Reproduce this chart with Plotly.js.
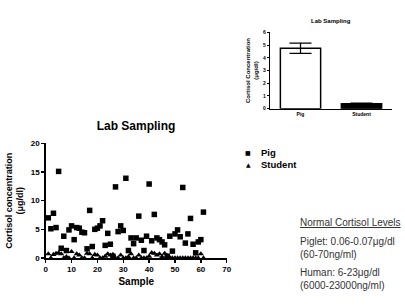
<!DOCTYPE html>
<html><head><meta charset="utf-8">
<script src="https://cdn.plot.ly/plotly-3.0.1.min.js"></script>
<style>html,body{margin:0;padding:0;background:#fff}#chart{width:405px;height:305px}</style>
</head><body><div id="chart"></div>
<script>
const samples = Array.from({length: 61}, (_, i) => i + 1);
const pigValues = [7.0,5.1,7.8,5.3,15.1,1.7,3.8,1.3,4.9,5.6,
  3.2,5.3,5.2,4.5,4.4,1.6,8.3,2.0,5.0,5.2,
  5.6,6.5,2.2,4.3,2.4,0.3,12.4,4.6,5.6,4.8,
  13.9,1.3,3.5,2.5,3.5,7.3,3.1,1.3,3.8,12.9,
  3.0,7.6,3.5,3.2,2.8,2.3,0.3,3.8,1.2,4.2,
  4.9,3.7,12.3,2.6,4.2,6.9,2.4,0.9,2.8,3.2,8.0];
const studentValues = [0.7,0,0.6,0.8,0.9,0.7,0,0.2,0,1.1,
  0,0.7,0.5,0,0,0.8,0.7,0,0.6,0.5,
  0,0,0.3,0.7,0.5,0.6,0,0,0.5,0,
  0,0.2,0.7,0,0,0.5,0,0,0,0.3,
  0.9,0.8,0.5,0.7,0.2,0.8,0.4,0.1,0,0,
  0,0,0,0,0,0,0,0,0,0.7,0];
const groups = ['Pig', 'Student'];
const groupMeans = [4.75, 0.38];
const groupErrors = [0.4, 0.05];
const xTicks = [0,10,20,30,40,50,60,70];
const yTicks = [0,5,10,15,20];
const insetTicks = [0,1,2,3,4,5,6];

const W = 405, H = 305;
const px = x => x / W;
const py = y => 1 - y / H;
const bold = 'Liberation Sans, Arial, sans-serif';

const traces = [
  {x: samples, y: pigValues, type: 'scatter', mode: 'markers', name: 'Pig',
   marker: {symbol: 'square', size: 5.5, color: '#000'}, cliponaxis: false, xaxis: 'x', yaxis: 'y'},
  {x: samples, y: studentValues, type: 'scatter', mode: 'markers', name: 'Student',
   marker: {symbol: 'triangle-up', size: 5.5, color: '#000'}, cliponaxis: false, xaxis: 'x', yaxis: 'y'},
  {x: groups, y: groupMeans, type: 'bar', xaxis: 'x2', yaxis: 'y2', width: 0.66,
   marker: {color: ['#fff', '#000'], line: {color: '#000', width: 1.5}},
   error_y: {type: 'data', array: groupErrors, visible: true, color: '#000', thickness: 1.3, width: 11}}
];

const axisFont = {family: bold, size: 8, color: '#000', weight: 'bold'};
const layout = {
  width: W, height: H,
  margin: {l: 0, r: 0, t: 0, b: 0},
  paper_bgcolor: '#fff', plot_bgcolor: 'rgba(0,0,0,0)',
  showlegend: false,
  font: {family: bold, color: '#000'},
  title: {text: '<b>Lab Sampling</b>', x: px(136), xanchor: 'center', y: py(126), yanchor: 'middle',
          xref: 'paper', yref: 'paper', font: {family: bold, size: 12, color: '#000'}},
  xaxis: {domain: [px(45.7), px(226.7)], range: [0, 70], tickvals: xTicks, anchor: 'y',
          showgrid: false, zeroline: false, showline: true, linecolor: '#000', linewidth: 1.5,
          ticks: 'outside', ticklen: 3, tickwidth: 1.5, tickcolor: '#000',
          tickfont: axisFont,
          title: {text: '<b>Sample</b>', font: {family: bold, size: 10, color: '#000'}, standoff: 5}},
  yaxis: {domain: [py(258), py(143.3)], range: [0, 20], tickvals: yTicks, anchor: 'x',
          showgrid: false, zeroline: false, showline: true, linecolor: '#000', linewidth: 1.5,
          ticks: 'outside', ticklen: 3, tickwidth: 1.5, tickcolor: '#000',
          tickfont: axisFont,
          title: {text: '<b>Cortisol concentration<br>(μg/dl)</b>', font: {family: bold, size: 9, color: '#000'}, standoff: 5}},
  xaxis2: {domain: [px(270), px(392)], range: [-0.5, 1.5], anchor: 'y2', type: 'category',
           showgrid: false, zeroline: false, showline: true, linecolor: '#000', linewidth: 1.2,
           ticks: '', tickfont: {family: bold, size: 5, color: '#000', weight: 'bold'}},
  yaxis2: {domain: [py(108.7), py(32.3)], range: [0, 6], tickvals: insetTicks, anchor: 'x2',
           showgrid: false, zeroline: false, showline: true, linecolor: '#000', linewidth: 1.2,
           ticks: 'outside', ticklen: 2, tickwidth: 1, tickcolor: '#000',
           tickfont: {family: bold, size: 5, color: '#000', weight: 'bold'},
           title: {text: '<b>Cortisol Concentration<br>(μg/dl)</b>', font: {family: bold, size: 6, color: '#000'}, standoff: 4}},
  annotations: [
    {text: '<b>Lab Sampling</b>', x: px(331), y: py(20.5), xref: 'paper', yref: 'paper', showarrow: false,
     xanchor: 'center', yanchor: 'middle', font: {family: bold, size: 6, color: '#000'}},
    {text: '■', x: px(248), y: py(152), xref: 'paper', yref: 'paper', showarrow: false,
     xanchor: 'center', yanchor: 'middle', font: {family: 'DejaVu Sans', size: 6, color: '#000'}},
    {text: '▲', x: px(248), y: py(164.5), xref: 'paper', yref: 'paper', showarrow: false,
     xanchor: 'center', yanchor: 'middle', font: {family: 'DejaVu Sans', size: 6, color: '#000'}},
    {text: '<b>Pig</b>', x: px(259), y: py(152), xref: 'paper', yref: 'paper', showarrow: false,
     xanchor: 'left', yanchor: 'middle', font: {family: bold, size: 9.5, color: '#000'}},
    {text: '<b>Student</b>', x: px(259), y: py(164.5), xref: 'paper', yref: 'paper', showarrow: false,
     xanchor: 'left', yanchor: 'middle', font: {family: bold, size: 9.5, color: '#000'}},
    {text: '<u>Normal Cortisol Levels</u>', x: px(298), y: py(222), xref: 'paper', yref: 'paper', showarrow: false,
     xanchor: 'left', yanchor: 'middle', font: {family: bold, size: 10, color: '#333'}},
    {text: 'Piglet: 0.06-0.07μg/dl<br>(60-70ng/ml)', x: px(298), y: py(247.5), xref: 'paper', yref: 'paper', showarrow: false,
     xanchor: 'left', yanchor: 'middle', align: 'left', font: {family: bold, size: 10, color: '#333'}},
    {text: 'Human: 6-23μg/dl<br>(6000-23000ng/ml)', x: px(298), y: py(278.5), xref: 'paper', yref: 'paper', showarrow: false,
     xanchor: 'left', yanchor: 'middle', align: 'left', font: {family: bold, size: 10, color: '#333'}}
  ]
};
Plotly.newPlot('chart', traces, layout, {displayModeBar: false, staticPlot: true});
</script></body></html>
